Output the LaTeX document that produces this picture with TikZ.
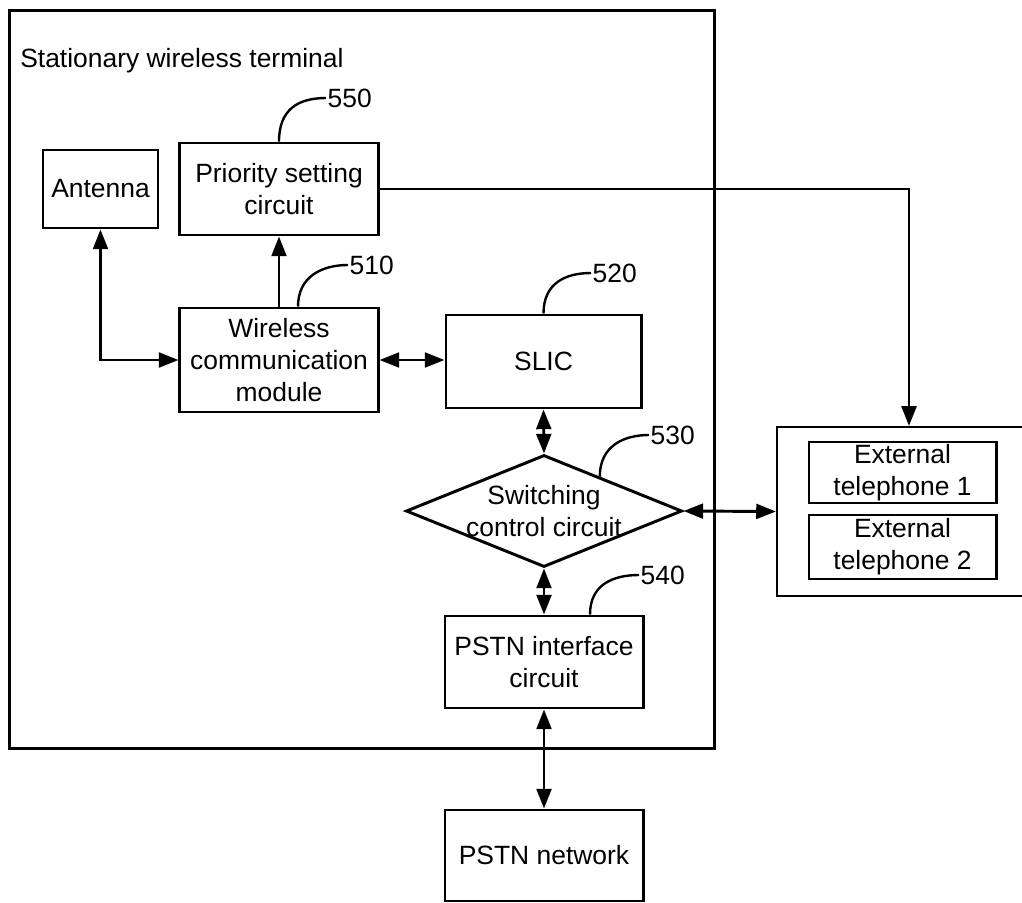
\documentclass[tikz,border=0pt]{standalone}
\usepackage{fontspec}
\setmainfont{Liberation Sans}
\usetikzlibrary{arrows.meta,shapes.geometric,calc}
\tikzset{
  block/.style={draw,line width=2.1pt,inner sep=0pt,align=center},
  link/.style={line width=2.1pt,-{Triangle[length=14pt,width=10.5pt]}},
  duplex/.style={line width=2.1pt,{Triangle[length=14pt,width=10.5pt]}-{Triangle[length=14pt,width=10.5pt]}},
  leader/.style={line width=1.7pt},
  refnum/.style={anchor=west,inner sep=1pt},
}
\begin{document}
\begin{tikzpicture}[x=0.025cm,y=-0.025cm,font=\fontsize{18.8}{22.8}\selectfont]
    \useasboundingbox (0,0) rectangle (1022,903);
    % terminal
    \node[block,minimum width=17.6cm,minimum height=18.425cm] (terminal) at (362,379.5) {};
    \node[anchor=base west,inner sep=0pt] (title) at (20,67) {Stationary wireless terminal};
    \node[block,minimum width=2.875cm,minimum height=1.95cm] (antenna) at (100.5,189) {Antenna};
    \node[block,minimum width=4.95cm,minimum height=2.3cm] (prio) at (279,189) {Priority setting\\circuit};
    \node[block,minimum width=4.95cm,minimum height=2.6cm] (wireless) at (279,360) {Wireless\\communication\\module};
    \node[block,minimum width=4.875cm,minimum height=2.325cm] (slic) at (543.5,361.5) {SLIC};
    \node[block,diamond,minimum width=6.9cm,minimum height=2.8cm] (switch) at (544,511) {};
    \node[align=center,inner sep=0pt] (switchtext) at (switch.center) {Switching\\control circuit};
    \node[block,minimum width=4.95cm,minimum height=2.3cm] (pstnif) at (544,662) {PSTN interface\\circuit};
    \node[block,minimum width=4.95cm,minimum height=2.275cm] (pstnnet) at (544,855.5) {PSTN network};
    % external telephones
    \node[draw,line width=1.5pt,minimum width=6.6cm,minimum height=4.225cm] (extbox) at (909,511.5) {};
    \node[block,minimum width=4.675cm,minimum height=1.525cm] (tel1) at (902.5,472.5) {External\\telephone 1};
    \node[block,minimum width=4.675cm,minimum height=1.6cm] (tel2) at (902.5,547) {External\\telephone 2};
    % reference numbers
    \node[refnum] (n550) at (326,98) {550};
    \node[refnum] (n510) at (348,265) {510};
    \node[refnum] (n520) at (591,273) {520};
    \node[refnum] (n530) at (649,435) {530};
    \node[refnum] (n540) at (639,575) {540};
    \draw[leader] (prio.north) .. controls +(0,-32) and +(-28,0) .. (n550.west);
    \draw[leader] ([xshift=0.475cm]wireless.north) .. controls +(0,-30) and +(-26,0) .. (n510.west);
    \draw[leader] (slic.north) .. controls +(0,-30) and +(-26,0) .. (n520.west);
    \draw[leader] ($(switch.north)!0.4!(switch.east)$) .. controls +(0,-30) and +(-26,0) .. (n530.west);
    \draw[leader] ([xshift=1.15cm]pstnif.north) .. controls +(0,-30) and +(-26,0) .. (n540.west);
    % connections
    \draw[duplex] (antenna.south) |- (wireless.west);
    \draw[link] (wireless.north) -- (prio.south);
    \draw[duplex] (wireless.east) -- (wireless.east -| slic.west);
    \draw[link] (prio.east) -| (extbox.north);
    \draw[duplex] (slic.south) -- (switch.north);
    \draw[duplex] (switch.east) -- (extbox.west);
    \draw[duplex] (switch.south) -- (pstnif.north);
    \draw[duplex] (pstnif.south) -- (pstnnet.north);
\end{tikzpicture}
\end{document}
